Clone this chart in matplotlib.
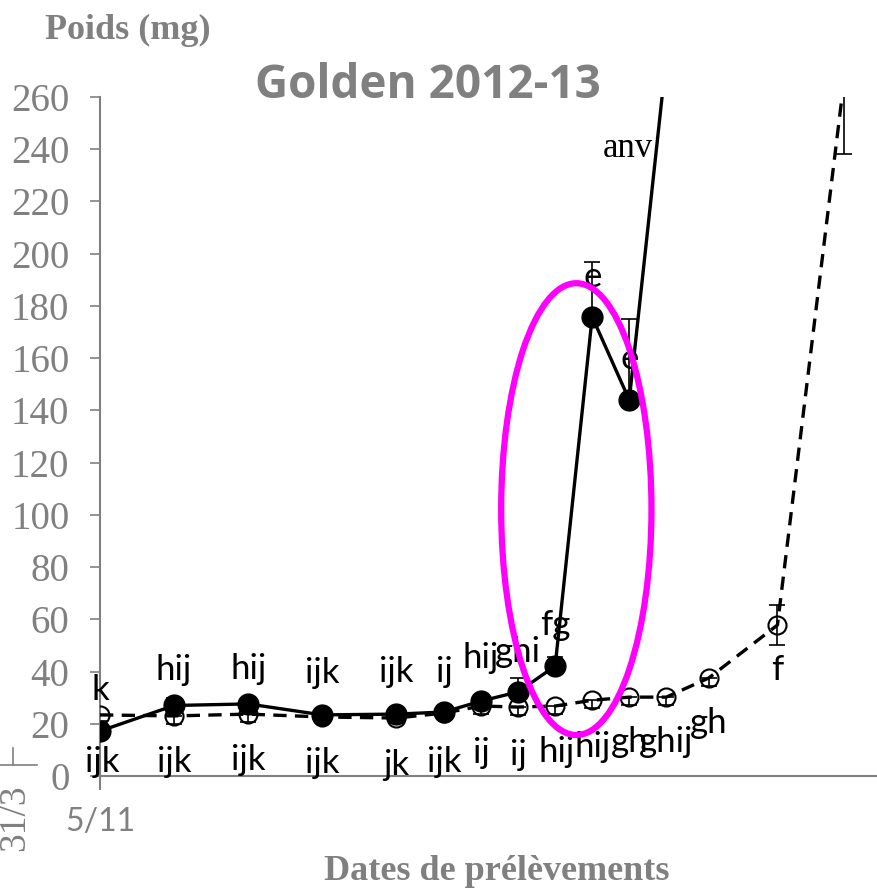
import matplotlib.pyplot as plt
from matplotlib.patches import Ellipse
from matplotlib.lines import Line2D

# days after 5/11 (sampling dates)
days_fill = [0, 14, 28, 42, 56, 65, 72, 79, 86, 93, 100, 107]
poids_fill = [17.2, 27.0, 27.6, 23.4, 23.7, 24.5, 28.7, 32.2, 42.1, 175.8, 144.0, 275.0]
err_fill = [1.0, 3.0, 2.0, 1.0, 1.0, 1.0, 1.5, 5.3, 3.5, 21.0, 31.0, 20.0]

days_open = [0, 14, 28, 42, 56, 65, 72, 79, 86, 93, 100, 107, 115, 128, 140.5]
poids_open = [23.4, 23.0, 23.7, 22.6, 22.2, 24.1, 26.8, 26.4, 26.8, 29.0, 30.2, 30.2, 37.5, 57.8, 265.0]
err_open_low = [2.5, 3.0, 3.0, 2.0, 2.0, 2.0, 3.0, 3.0, 3.0, 3.0, 3.0, 3.0, 3.0, 7.5, 27.0]
err_open_up = [0, 0, 0, 0, 0, 0, 0, 0, 0, 0, 0, 0, 0, 7.5, 27.0]

# letters (statistical groups)
lettres_haut = ['k', 'hij', 'hij', 'ijk', 'ijk', 'ij', 'hij', 'ghi', 'fg', 'e', 'e']
x_haut = [0, 14, 28, 42, 56, 65, 72, 79, 86, 93, 100]
y_haut = [29.1, 36.8, 37.2, 35.6, 36.0, 36.0, 41.4, 43.7, 54.0, 187.2, 156.0]

lettres_bas = ['ijk', 'ijk', 'ijk', 'ijk', 'jk', 'ijk', 'ij', 'ij', 'hij', 'hij', 'gh', 'ghij', 'gh', 'f']
x_bas = [0.5, 14, 28, 42, 56, 65, 72, 79, 86.2, 93, 100, 107, 115, 128]
y_bas = [1.5, 1.5, 2.3, 1.1, 0.4, 1.5, 5.0, 4.2, 5.4, 7.3, 9.2, 9.2, 16.5, 36.8]

gris = '#808080'
serif = ['Liberation Serif', 'DejaVu Serif']
sans = ['Lato', 'DejaVu Sans']

fig = plt.figure(figsize=(8.78, 8.92), dpi=100)
ax = fig.add_axes([100 / 878, 116 / 892, 778 / 878, 679 / 892])

ax.errorbar(days_open, poids_open, yerr=[err_open_low, err_open_up], fmt='none',
            ecolor='black', elinewidth=1.2, capsize=6, capthick=1.2, zorder=2)
ax.plot(days_open, poids_open, color='black', lw=2.4, ls=(0, (4, 2.5)),
        marker='o', markersize=13, markerfacecolor='none',
        markeredgecolor='black', markeredgewidth=1.5, zorder=3)

ax.errorbar(days_fill, poids_fill, yerr=[[0] * len(err_fill), err_fill], fmt='none',
            ecolor='black', elinewidth=1.2, capsize=6, capthick=1.2, zorder=4)
ax.plot(days_fill, poids_fill, color='black', lw=2.4, marker='o', markersize=15,
        markerfacecolor='black', markeredgecolor='black', zorder=5)

for t, x, y in zip(lettres_haut, x_haut, y_haut):
    ax.text(x, y, t, ha='center', va='baseline', fontsize=25, family=sans, zorder=6)
for t, x, y in zip(lettres_bas, x_bas, y_bas):
    ax.text(x, y, t, ha='center', va='baseline', fontsize=25, family=sans, zorder=6,
            clip_on=False)

ax.add_patch(Ellipse((90, 102.2), 28.4, 173, fill=False, edgecolor='#FF00FF',
                     lw=4.5, zorder=7))

ax.text(104.5, 237, 'anv', ha='right', va='baseline', fontsize=25, family=serif)

ax.set_xlim(0, 147)
ax.set_ylim(0, 260)
ax.set_yticks(range(0, 261, 20))
ax.set_xticks([0])
ax.set_xticklabels(['5/11'])

for s in ['top', 'right']:
    ax.spines[s].set_visible(False)
for s in ['left', 'bottom']:
    ax.spines[s].set_color(gris)
    ax.spines[s].set_linewidth(1.5)

ax.tick_params(axis='y', direction='out', length=7, width=1.2, color=gris,
               labelcolor=gris, labelsize=28, pad=15)
ax.tick_params(axis='x', direction='out', length=10, width=1.5, color=gris,
               labelcolor=gris, labelsize=23, pad=12)
for lab in ax.get_yticklabels():
    lab.set_family(serif)
for lab in ax.get_xticklabels():
    lab.set_family(sans)

fig.text(428 / 878, 1 - 85 / 892, 'Golden 2012-13', ha='center', va='center',
         fontsize=33, fontweight='bold', color=gris, family=['Open Sans', 'DejaVu Sans'])
fig.text(128 / 878, 1 - 30 / 892, 'Poids (mg)', ha='center', va='center',
         fontsize=26, fontweight='bold', color=gris, family=serif)
fig.text(497 / 878, 1 - 872 / 892, 'Dates de prélèvements', ha='center', va='center',
         fontsize=26, fontweight='bold', color=gris, family=serif)

# left-over fragment of another axis
fig.text(15 / 878, 1 - 818 / 892, '31/3', ha='center', va='center', rotation=90,
         fontsize=27, color=gris, family=serif)
fig.add_artist(Line2D([0, 37 / 878], [1 - 765 / 892, 1 - 765 / 892],
                      color=gris, lw=1.2))
fig.add_artist(Line2D([13 / 878, 13 / 878], [1 - 748 / 892, 1 - 765 / 892],
                      color=gris, lw=1.2))

fig.savefig('out.png', dpi=100)
